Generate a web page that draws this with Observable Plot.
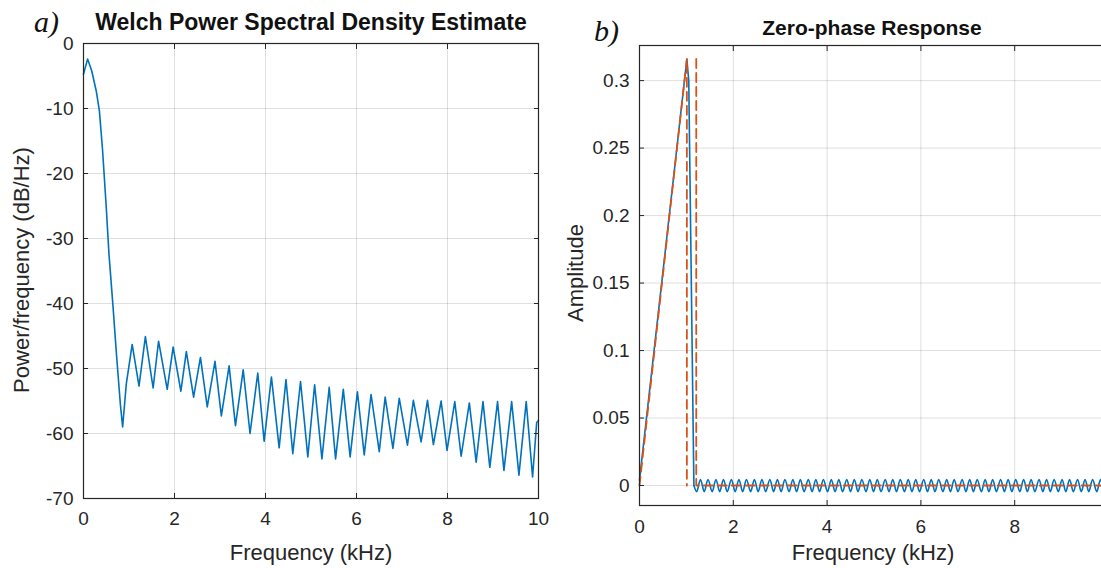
<!DOCTYPE html>
<html>
<head>
<meta charset="utf-8">
<script src="https://cdn.jsdelivr.net/npm/d3@7"></script>
<script src="https://cdn.jsdelivr.net/npm/@observablehq/plot@0.6"></script>
<style>
  html, body { margin: 0; padding: 0; background: #fff; }
  body { width: 1101px; height: 568px; overflow: hidden; position: relative;
         font-family: "Liberation Sans", Arial, Helvetica, sans-serif; color: #262626; }
  .abs { position: absolute; white-space: nowrap; }
  .title { font-weight: bold; color: #111; transform: translate(-50%, -50%); }
  .panel { font-family: "Liberation Serif", "Times New Roman", serif; font-style: italic; font-size: 30px; color: #111; transform: translateY(-50%); }
  .xlab { font-size: 22px; transform: translate(-50%, -50%); }
  .ylab { font-size: 22px; transform: translate(-50%, -50%) rotate(-90deg); }
  #plotA svg, #plotB svg { max-width: none !important; }
</style>
</head>
<body>
<div id="plotA" class="abs" style="left:0;top:0;width:550px;height:568px"></div>
<div id="plotB" class="abs" style="left:550px;top:0;width:570px;height:568px"></div>

<div class="abs panel" style="left:34px;top:22px">a)</div>
<div class="abs title" style="left:311px;top:22px;font-size:23px">Welch Power Spectral Density Estimate</div>
<div class="abs xlab" style="left:311px;top:553px">Frequency (kHz)</div>
<div class="abs ylab" style="left:22px;top:270px">Power/frequency (dB/Hz)</div>

<div class="abs panel" style="left:594px;top:31px">b)</div>
<div class="abs title" style="left:872px;top:28px;font-size:21px">Zero-phase Response</div>
<div class="abs xlab" style="left:873px;top:553px">Frequency (kHz)</div>
<div class="abs ylab" style="left:576px;top:273px">Amplitude</div>

<script>
// ---------- Panel a) Welch PSD (kHz, dB/Hz) ----------
const psdFreq = [0, 0.09, 0.18, 0.28, 0.35, 0.42, 0.50, 0.56, 0.65, 0.73,
  0.81, 0.86, 0.94, 1.07, 1.22, 1.36, 1.53, 1.65, 1.84, 1.97,
  2.14, 2.26, 2.42, 2.57, 2.72, 2.89, 3.03, 3.20, 3.34, 3.51,
  3.66, 3.83, 3.97, 4.13, 4.30, 4.45, 4.60, 4.77, 4.93, 5.08,
  5.24, 5.40, 5.54, 5.71, 5.86, 6.02, 6.17, 6.32, 6.50, 6.63,
  6.80, 6.94, 7.12, 7.25, 7.42, 7.56, 7.69, 7.86, 7.99, 8.16,
  8.30, 8.48, 8.63, 8.78, 8.93, 9.10, 9.24, 9.41, 9.57, 9.73,
  9.87, 9.96, 10.0];
const psdDb = [-4.7, -2.4, -4.2, -7.3, -10.4, -16.5, -25.2, -32.4, -40.6, -48.3,
  -55.5, -59.0, -52.4, -46.3, -52.7, -45.1, -53.0, -45.8, -53.2, -46.7,
  -53.5, -47.4, -54.4, -48.3, -55.9, -48.9, -57.3, -49.6, -58.8, -50.2,
  -60.0, -50.7, -61.2, -51.3, -62.2, -51.7, -63.1, -52.0, -63.6, -52.5,
  -63.9, -52.9, -63.9, -53.2, -63.6, -53.6, -63.3, -54.0, -62.8, -54.4,
  -62.3, -54.6, -61.8, -54.9, -61.3, -54.9, -61.7, -55.0, -62.6, -55.1,
  -63.5, -55.3, -64.4, -55.1, -65.2, -55.1, -65.7, -55.1, -66.4, -55.1,
  -66.7, -58.3, -58.0];
const xTicksA = [0, 2, 4, 6, 8, 10];
const yTicksA = [-70, -60, -50, -40, -30, -20, -10, 0];

// ---------- Panel b) Zero-phase response ----------
const respFreq = [0, 1.01, 1.05, 1.16];
const respAmp = [0.004, 0.316, 0.300, 0.0];
const rippleTroughFreq = [1.22, 1.38, 1.55, 1.71, 1.87, 2.04, 2.20, 2.37, 2.53, 2.69,
  2.86, 3.02, 3.19, 3.35, 3.51, 3.68, 3.84, 4.01, 4.17, 4.33,
  4.50, 4.66, 4.83, 4.99, 5.15, 5.32, 5.48, 5.65, 5.81, 5.97,
  6.14, 6.30, 6.47, 6.63, 6.79, 6.96, 7.12, 7.29, 7.45, 7.61,
  7.78, 7.94, 8.11, 8.27, 8.43, 8.60, 8.76, 8.93, 9.09, 9.25,
  9.42, 9.58, 9.75, 9.91];
const ripplePeakFreq = [1.30, 1.46, 1.63, 1.79, 1.96, 2.12, 2.28, 2.45, 2.61, 2.78,
  2.94, 3.10, 3.27, 3.43, 3.60, 3.76, 3.92, 4.09, 4.25, 4.42,
  4.58, 4.74, 4.91, 5.07, 5.24, 5.40, 5.56, 5.73, 5.89, 6.06,
  6.22, 6.38, 6.55, 6.71, 6.88, 7.04, 7.20, 7.37, 7.53, 7.70,
  7.86, 8.02, 8.19, 8.35, 8.52, 8.68, 8.84, 9.01, 9.17, 9.34,
  9.50, 9.66, 9.83, 9.99];
const rippleTroughAmp = -0.0045;
const ripplePeakAmp = 0.0045;
const specFreq = [0, 1.01, 1.01, 1.21, 1.21, 10];
const specAmp = [0, 0.316, 0, 0.316, 0, 0];
const specPart = [0, 0, 0, 1, 1, 1];
const xTicksB = [0, 2, 4, 6, 8];
const xGridB = [0, 2, 4, 6, 8, 10];
const yTicksB = [0, 0.05, 0.1, 0.15, 0.2, 0.25, 0.3];

// ---------- build tables ----------
const psd = psdFreq.map((f, i) => ({f, v: psdDb[i]}));
const respMain = respFreq.map((f, i) => ({f, v: respAmp[i]}));
const ripple = [
  respMain[respMain.length - 1],
  ...rippleTroughFreq.map(f => ({f, v: rippleTroughAmp})),
  ...ripplePeakFreq.map(f => ({f, v: ripplePeakAmp}))
].sort((a, b) => a.f - b.f);
const spec = specFreq.map((f, i) => ({f, v: specAmp[i], part: specPart[i]}));

const FRAME = "#262626";
const BLUE = "#0072BD";
const RED = "#D95319";
const baseStyle = {fontFamily: "'Liberation Sans', Arial, Helvetica, sans-serif", fontSize: "19px", color: "#262626", background: "transparent", overflow: "visible", maxWidth: "none"};
const fmt = d => String(d);
const blank = () => "";

function axes(xt, yt, xPad) {
  return [
    Plot.axisX(xt, {anchor: "bottom", tickSize: 0, tickPadding: xPad, tickFormat: fmt, label: null}),
    Plot.axisX(xt, {anchor: "bottom", tickSize: -5, tickFormat: blank, label: null, stroke: FRAME}),
    Plot.axisX(xt, {anchor: "top", tickSize: -5, tickFormat: blank, label: null, stroke: FRAME}),
    Plot.axisY(yt, {anchor: "left", tickSize: 0, tickPadding: 10, tickFormat: fmt, label: null}),
    Plot.axisY(yt, {anchor: "left", tickSize: -5, tickFormat: blank, label: null, stroke: FRAME}),
    Plot.axisY(yt, {anchor: "right", tickSize: -5, tickFormat: blank, label: null, stroke: FRAME})
  ];
}

const plotA = Plot.plot({
  width: 550, height: 568,
  marginLeft: 83, marginRight: 12, marginTop: 43, marginBottom: 70,
  style: baseStyle,
  x: {domain: [0, 10]},
  y: {domain: [-70, 0]},
  marks: [
    Plot.gridX(xTicksA, {stroke: FRAME, strokeOpacity: 0.15}),
    Plot.gridY(yTicksA, {stroke: FRAME, strokeOpacity: 0.15}),
    Plot.line(psd, {x: "f", y: "v", stroke: BLUE, strokeWidth: 1.6}),
    Plot.frame({stroke: FRAME, strokeWidth: 1.2}),
    ...axes(xTicksA, yTicksA, 13)
  ]
});
document.getElementById("plotA").appendChild(plotA);

const plotB = Plot.plot({
  width: 570, height: 568,
  marginLeft: 89, marginRight: 12, marginTop: 45, marginBottom: 63,
  style: baseStyle,
  x: {domain: [0, 10]},
  y: {domain: [-0.0148, 0.326]},
  marks: [
    Plot.gridX(xGridB, {stroke: FRAME, strokeOpacity: 0.15}),
    Plot.gridY(yTicksB, {stroke: FRAME, strokeOpacity: 0.15}),
    Plot.line(respMain, {x: "f", y: "v", stroke: BLUE, strokeWidth: 1.6}),
    Plot.line(ripple, {x: "f", y: "v", stroke: BLUE, strokeWidth: 1.6, curve: "monotone-x"}),
    Plot.line(spec, {x: "f", y: "v", z: "part", stroke: RED, strokeWidth: 1.8, strokeDasharray: "9,5"}),
    Plot.frame({stroke: FRAME, strokeWidth: 1.2}),
    ...axes(xTicksB, yTicksB, 14)
  ]
});
document.getElementById("plotB").appendChild(plotB);
</script>
</body>
</html>
